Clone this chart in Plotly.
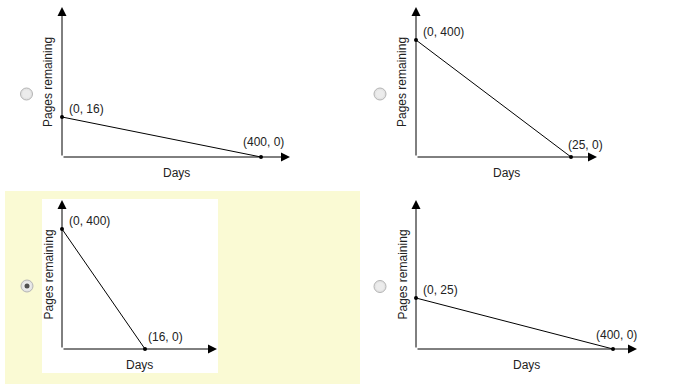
import plotly.graph_objects as go

# ---- data ----
start_pages = [16, 400, 400, 25]      # y-intercept (Days = 0)
end_days = [400, 25, 16, 400]         # x-intercept (Pages = 0)
x_title = "Days"
y_title = "Pages remaining"
selected = [False, False, True, False]

# ---- layout (pixel geometry of each panel) ----
W, H = 685, 384
# origin px, x-tip px, y-tip px, px of end point on x, px of start point on y
geo = [
    dict(ox=62, oy=157, xtip=290, ytip=7, xend=261, ystart=117, radio=(26.5, 94),
         end_dx=-19, end_dy=15),
    dict(ox=416, oy=157, xtip=597, ytip=7, xend=571, ystart=40, radio=(380, 94),
         end_dx=-4, end_dy=12),
    dict(ox=62, oy=349, xtip=217, ytip=200, xend=145, ystart=229, radio=(27, 286),
         end_dx=2, end_dy=12),
    dict(ox=416, oy=349, xtip=637, ytip=200, xend=613, ystart=298, radio=(380, 286.5),
         end_dx=-18, end_dy=14),
]


def px(x):
    return x / W


def py(y):
    return 1 - y / H


FONT = "Liberation Sans, Arial, sans-serif"
TXT = "#222222"

fig = go.Figure()
annotations = []
shapes = []

# highlighted (selected) answer background
shapes.append(dict(type="rect", xref="paper", yref="paper", layer="below",
                   x0=px(5), x1=px(360), y0=py(384), y1=py(191),
                   fillcolor="#FAFAD4", line=dict(width=0)))
shapes.append(dict(type="rect", xref="paper", yref="paper", layer="below",
                   x0=px(42), x1=px(218), y0=py(373), y1=py(199),
                   fillcolor="white", line=dict(width=0)))

layout_axes = {}
for i, g in enumerate(geo):
    n = i + 1
    xa = "x" if n == 1 else f"x{n}"
    ya = "y" if n == 1 else f"y{n}"
    xmax = end_days[i] * (g["xtip"] - g["ox"]) / (g["xend"] - g["ox"])
    ymax = start_pages[i] * (g["oy"] - g["ytip"]) / (g["oy"] - g["ystart"])

    layout_axes["xaxis" if n == 1 else f"xaxis{n}"] = dict(
        domain=[px(g["ox"]), px(g["xtip"])], range=[0, xmax], visible=False,
        anchor=ya, fixedrange=True)
    layout_axes["yaxis" if n == 1 else f"yaxis{n}"] = dict(
        domain=[py(g["oy"]), py(g["ytip"])], range=[0, ymax], visible=False,
        anchor=xa, fixedrange=True)

    fig.add_trace(go.Scatter(
        x=[0, end_days[i]], y=[start_pages[i], 0], mode="lines+markers",
        line=dict(color="black", width=1), marker=dict(color="black", size=4),
        xaxis=xa, yaxis=ya, showlegend=False, hoverinfo="skip", cliponaxis=False))

    # axis arrows
    for (tx, ty) in [(xmax, 0), (0, ymax)]:
        annotations.append(dict(
            xref=xa, yref=ya, axref=xa, ayref=ya, x=tx, y=ty, ax=0, ay=0,
            text="", showarrow=True, arrowhead=2, arrowsize=1.8, arrowwidth=1,
            arrowcolor="black", standoff=0, startstandoff=0))

    # point labels
    annotations.append(dict(
        xref=xa, yref=ya, x=0, y=start_pages[i], text=f"(0, {start_pages[i]})",
        showarrow=False, xanchor="left", yanchor="middle", xshift=6, yshift=8,
        borderpad=0, font=dict(family=FONT, size=12, color=TXT)))
    annotations.append(dict(
        xref=xa, yref=ya, x=end_days[i], y=0, text=f"({end_days[i]}, 0)",
        showarrow=False, xanchor="left", yanchor="middle",
        xshift=g["end_dx"], yshift=g["end_dy"],
        borderpad=0, font=dict(family=FONT, size=12, color=TXT)))

    # axis titles
    annotations.append(dict(
        xref="paper", yref="paper", x=px((g["ox"] + g["xtip"]) / 2), y=py(g["oy"] + 16),
        text=x_title, showarrow=False, xanchor="center", yanchor="middle",
        font=dict(family=FONT, size=12, color=TXT)))
    annotations.append(dict(
        xref="paper", yref="paper", x=px(g["ox"] - 14), y=py((g["oy"] + g["ytip"]) / 2),
        text=y_title, textangle=-90, showarrow=False, xanchor="center",
        yanchor="middle", font=dict(family=FONT, size=12, color=TXT)))

    # radio button
    cx, cy = g["radio"]
    r = 6
    shapes.append(dict(type="circle", xref="paper", yref="paper",
                       x0=px(cx - r), x1=px(cx + r), y0=py(cy + r), y1=py(cy - r),
                       fillcolor="#e4e4e4", line=dict(color="#b4b4b4", width=1)))
    shapes.append(dict(type="circle", xref="paper", yref="paper",
                       x0=px(cx - r + 2), x1=px(cx + r - 2), y0=py(cy + r - 2),
                       y1=py(cy - r + 2),
                       fillcolor="#ececec", line=dict(width=0)))
    if selected[i]:
        shapes.append(dict(type="circle", xref="paper", yref="paper",
                           x0=px(cx - 2.5), x1=px(cx + 2.5), y0=py(cy + 2.5),
                           y1=py(cy - 2.5),
                           fillcolor="#505050", line=dict(width=0)))

fig.update_layout(
    width=W, height=H, margin=dict(l=0, r=0, t=0, b=0),
    paper_bgcolor="white", plot_bgcolor="rgba(0,0,0,0)",
    annotations=annotations, shapes=shapes, showlegend=False,
    **layout_axes)

fig.write_html("out.html", config={"displayModeBar": False},
               post_script="document.body.style.margin='0';document.body.style.overflow='hidden';")
